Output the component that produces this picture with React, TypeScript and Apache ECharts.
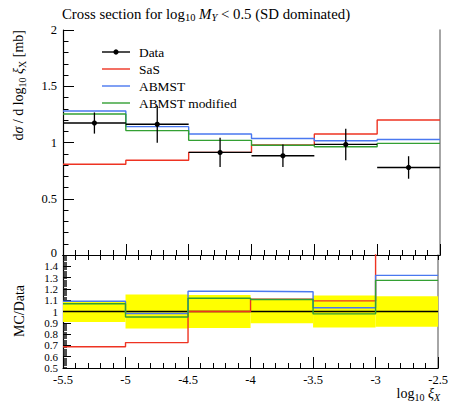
import React, { useEffect, useRef } from 'react';
import * as echarts from 'echarts';

const binEdges = [-5.5, -5, -4.5, -4, -3.5, -3, -2.5];
const dataValues = [1.173, 1.162, 0.912, 0.882, 0.983, 0.778];
const dataErrors = [0.094, 0.165, 0.13, 0.1, 0.14, 0.1];
const ratioBand = [0.093, 0.15, 0.147, 0.103, 0.141, 0.136];
const sasValues = [0.807, 0.842, 0.912, 0.978, 1.075, 1.2];
const abmstValues = [1.28, 1.141, 1.075, 1.036, 1.016, 1.027];
const abmstModValues = [1.253, 1.106, 1.019, 0.976, 0.962, 0.992];
const xTickLabels = ['-5.5', '-5', '-4.5', '-4', '-3.5', '-3', '-2.5'];
const seriesNames = ['Data', 'SaS', 'ABMST', 'ABMST modified'];

const FONT = 'Liberation Serif';
const RED = '#ee3322';
const BLUE = '#4a78f0';
const GREEN = '#33a033';

const stepPoints = (vals: number[]) =>
  vals.map((v, i) => [binEdges[i], v]).concat([[binEdges[binEdges.length - 1], vals[vals.length - 1]]]);

const ratio = (vals: number[]) => vals.map((v, i) => v / dataValues[i]);

export default function App() {
  const ref = useRef<HTMLDivElement>(null);
  useEffect(() => {
    if (!ref.current) return;
    const chart = echarts.init(ref.current, null, { renderer: 'svg' });
    const G0 = { left: 63, top: 30, right: 11, height: 225 };
    const G1 = { left: 63, top: 255, right: 11, height: 113 };

    const lineSeries = (name: string, vals: number[], color: string, xi: number, yi: number) => ({
      name,
      type: 'line',
      xAxisIndex: xi,
      yAxisIndex: yi,
      step: 'end',
      symbol: 'none',
      clip: true,
      data: stepPoints(vals),
      lineStyle: { color, width: 1.4 },
      z: 3,
    });

    const legendItems: any[] = [];
    const legendY = [52, 69, 86, 103];
    const legendColors = ['#000', RED, BLUE, GREEN];
    seriesNames.forEach((n, i) => {
      legendItems.push({
        type: 'line',
        shape: { x1: 102, y1: legendY[i], x2: 130, y2: legendY[i] },
        style: { stroke: legendColors[i], lineWidth: 1.4 },
      });
      legendItems.push({
        type: 'text',
        x: 139,
        y: legendY[i],
        style: { text: n, fontFamily: FONT, fontSize: 13.4, fill: '#000', align: 'left', verticalAlign: 'middle', textAlign: 'left', textVerticalAlign: 'middle' },
      });
    });
    legendItems.push({ type: 'circle', shape: { cx: 116, cy: legendY[0], r: 2.6 }, style: { fill: '#000' } });

    const sub = { fontFamily: FONT, fontSize: 10, lineHeight: 8, verticalAlign: 'bottom' };
    const subIt = { ...sub, fontStyle: 'italic' };
    const it = { fontFamily: FONT, fontSize: 14, lineHeight: 18, fontStyle: 'italic' };
    const nrm = { fontFamily: FONT, fontSize: 14, lineHeight: 18 };
    const subT = { fontFamily: FONT, fontSize: 10.5, lineHeight: 8, verticalAlign: 'bottom' };
    const subTIt = { ...subT, fontStyle: 'italic' };
    const itT = { fontFamily: FONT, fontSize: 14.8, lineHeight: 18, fontStyle: 'italic' };

    chart.setOption({
      animation: false,
      backgroundColor: '#fff',
      grid: [G0, G1],
      xAxis: [
        {
          gridIndex: 0, type: 'value', min: -5.5, max: -2.5, interval: 0.5, position: 'bottom',
          axisLine: { lineStyle: { color: '#000', width: 1.2 } },
          axisTick: { inside: true, length: 11, lineStyle: { color: '#000' } },
          minorTick: { show: true, splitNumber: 5, length: 5, lineStyle: { color: '#000' } },
          axisLabel: { show: false }, splitLine: { show: false },
        },
        {
          gridIndex: 0, type: 'value', min: -5.5, max: -2.5, position: 'top',
          axisLine: { lineStyle: { color: '#000', width: 1.2 } },
          axisTick: { show: false }, axisLabel: { show: false }, splitLine: { show: false },
        },
        {
          gridIndex: 1, type: 'value', min: -5.5, max: -2.5, interval: 0.5, position: 'bottom',
          axisLine: { lineStyle: { color: '#000', width: 1.2 } },
          axisTick: { inside: true, length: 11, lineStyle: { color: '#000' } },
          minorTick: { show: true, splitNumber: 5, length: 5, lineStyle: { color: '#000' } },
          axisLabel: {
            margin: 5, fontFamily: FONT, fontSize: 12.5, color: '#000',
            showMinLabel: true, showMaxLabel: true,
            formatter: (v: number) => {
              const i = Math.round((v + 5.5) / 0.5);
              return xTickLabels[i] ?? '';
            },
          },
          splitLine: { show: false },
        },
        {
          gridIndex: 1, type: 'value', min: -5.5, max: -2.5, interval: 0.5, position: 'top',
          axisLine: { lineStyle: { color: '#000', width: 1.2 } },
          axisTick: { inside: true, length: 5, lineStyle: { color: '#000' } },
          minorTick: { show: true, splitNumber: 5, length: 5, lineStyle: { color: '#000' } },
          axisLabel: { show: false }, splitLine: { show: false },
        },
      ],
      yAxis: [
        {
          gridIndex: 0, type: 'value', min: 0, max: 2, interval: 0.5, position: 'left',
          axisLine: { show: true, lineStyle: { color: '#000', width: 1.2 } },
          axisTick: { inside: true, length: 11, lineStyle: { color: '#000' } },
          minorTick: { show: true, splitNumber: 5, length: 5.5, lineStyle: { color: '#000' } },
          axisLabel: {
            margin: 6, fontFamily: FONT, fontSize: 12.5, color: '#000', showMinLabel: true, showMaxLabel: true,
            formatter: (v: number) => (Math.abs(v) < 1e-9 ? '' : String(v)),
          },
          splitLine: { show: false },
        },
        {
          gridIndex: 0, type: 'value', min: 0, max: 2, position: 'right',
          axisLine: { show: true, lineStyle: { color: '#888', width: 1.5 } },
          axisTick: { show: false }, axisLabel: { show: false }, splitLine: { show: false },
        },
        {
          gridIndex: 1, type: 'value', min: 0.5, max: 1.5, interval: 0.1, position: 'left',
          axisLine: { show: true, lineStyle: { color: '#000', width: 1.2 } },
          axisTick: { inside: true, length: 8, lineStyle: { color: '#000' } },
          minorTick: { show: true, splitNumber: 10, length: 4, lineStyle: { color: '#222', width: 0.8 } },
          axisLabel: {
            margin: 5, fontFamily: FONT, fontSize: 11, color: '#000', lineHeight: 11,
            showMinLabel: true, showMaxLabel: false,
            formatter: (v: number) => (Math.abs(v - 1.5) < 1e-6 ? '' : String(+v.toFixed(2))),
          },
          splitLine: { show: false },
        },
        {
          gridIndex: 1, type: 'value', min: 0.5, max: 1.5, position: 'right',
          axisLine: { show: true, lineStyle: { color: '#888', width: 1.5 } },
          axisTick: { show: false }, axisLabel: { show: false }, splitLine: { show: false },
        },
      ],
      series: [
        lineSeries('SaS', sasValues, RED, 0, 0),
        lineSeries('ABMST', abmstValues, BLUE, 0, 0),
        lineSeries('ABMST modified', abmstModValues, GREEN, 0, 0),
        {
          name: 'Data',
          type: 'custom',
          xAxisIndex: 0,
          yAxisIndex: 0,
          z: 5,
          encode: { x: 0, y: 1 },
          data: dataValues.map((v, i) => [
            (binEdges[i] + binEdges[i + 1]) / 2, v, (binEdges[i + 1] - binEdges[i]) / 2, dataErrors[i],
          ]),
          renderItem: (params: any, api: any) => {
            const x = api.value(0), y = api.value(1), ex = api.value(2), ey = api.value(3);
            const c = api.coord([x, y]);
            const l = api.coord([x - ex, y]);
            const r = api.coord([x + ex, y]);
            const t = api.coord([x, y + ey]);
            const b = api.coord([x, y - ey]);
            return {
              type: 'group',
              children: [
                { type: 'line', shape: { x1: l[0], y1: l[1], x2: r[0], y2: r[1] }, style: { stroke: '#000', lineWidth: 1.4 } },
                { type: 'line', shape: { x1: t[0], y1: t[1], x2: b[0], y2: b[1] }, style: { stroke: '#000', lineWidth: 1.3 } },
                { type: 'circle', shape: { cx: c[0], cy: c[1], r: 2.6 }, style: { fill: '#000' } },
              ],
            };
          },
        },
        {
          name: 'band',
          type: 'custom',
          xAxisIndex: 2,
          yAxisIndex: 2,
          z: 1,
          encode: { x: [0, 1], y: [2, 3] },
          data: ratioBand.map((b, i) => [binEdges[i], binEdges[i + 1], 1 - b, 1 + b]),
          renderItem: (params: any, api: any) => {
            const p1 = api.coord([api.value(0), api.value(3)]);
            const p2 = api.coord([api.value(1), api.value(2)]);
            return {
              type: 'rect',
              shape: { x: p1[0], y: p1[1], width: p2[0] - p1[0], height: p2[1] - p1[1] },
              style: { fill: '#ffff00' },
            };
          },
        },
        lineSeries('Data ratio', ratio(dataValues), '#000', 2, 2),
        lineSeries('SaS ratio', ratio(sasValues), RED, 2, 2),
        lineSeries('ABMST ratio', ratio(abmstValues), BLUE, 2, 2),
        lineSeries('ABMST modified ratio', ratio(abmstModValues), GREEN, 2, 2),
      ],
      graphic: [
        {
          type: 'text',
          x: 62,
          y: 14,
          style: {
            text: 'Cross section for log{s|10} {i|M}{si|Y} < 0.5 (SD dominated)',
            rich: { s: subT, i: itT, si: subTIt },
            fontFamily: FONT, fontSize: 14.8, lineHeight: 18, fill: '#000',
            align: 'left', verticalAlign: 'middle', textAlign: 'left', textVerticalAlign: 'middle',
          },
        },
        {
          type: 'text',
          x: 57,
          y: 253,
          style: {
            text: '0',
            fontFamily: FONT, fontSize: 12.5, fill: '#000',
            align: 'right', verticalAlign: 'middle', textAlign: 'right', textVerticalAlign: 'middle',
          },
        },
        {
          type: 'text',
          x: 18,
          y: 30,
          rotation: Math.PI / 2,
          style: {
            text: 'd{i|σ} / d log{s|10} {i|ξ}{s|X} [mb]',
            rich: { n: nrm, s: sub, i: it },
            fontFamily: FONT, fontSize: 14, lineHeight: 18, fill: '#000',
            align: 'right', verticalAlign: 'middle', textAlign: 'right', textVerticalAlign: 'middle',
          },
        },
        {
          type: 'text',
          x: 19,
          y: 311,
          rotation: Math.PI / 2,
          style: {
            text: 'MC/Data',
            fontFamily: FONT, fontSize: 14, fill: '#000',
            align: 'center', verticalAlign: 'middle', textAlign: 'center', textVerticalAlign: 'middle',
          },
        },
        {
          type: 'text',
          x: 440,
          y: 393,
          style: {
            text: 'log{s|10} {i|ξ}{si|X}',
            rich: { n: nrm, s: sub, i: it, si: subIt },
            fontFamily: FONT, fontSize: 14, lineHeight: 18, fill: '#000',
            align: 'right', verticalAlign: 'middle', textAlign: 'right', textVerticalAlign: 'middle',
          },
        },
        ...legendItems,
      ],
    });
    return () => chart.dispose();
  }, []);
  return <div ref={ref} style={{ position: 'fixed', left: 0, top: 0, width: 451, height: 402 }} />;
}
